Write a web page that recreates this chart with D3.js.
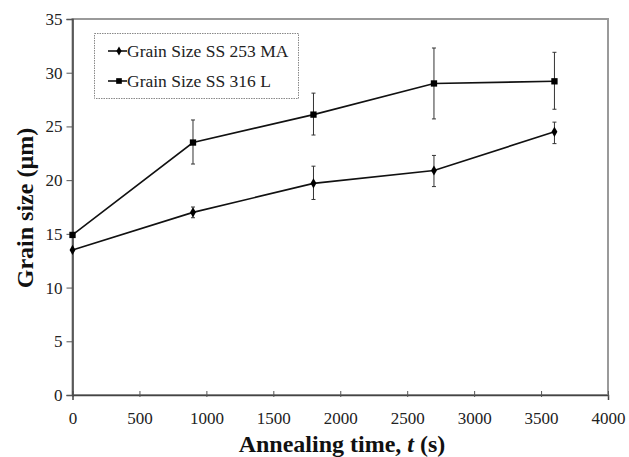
<!DOCTYPE html>
<html>
<head>
<meta charset="utf-8">
<script src="https://cdn.jsdelivr.net/npm/d3@7"></script>
<style>
  html, body { margin: 0; padding: 0; background: #fff; }
  svg { display: block; font-family: "Liberation Serif", "Times New Roman", serif; }
</style>
</head>
<body>
<div id="chart"></div>
<script>
'use strict';

// annealing times (s)
const times = [0, 900, 1800, 2700, 3600];

// SS 253 MA
const ma253 = [13.5, 17.0, 19.7, 20.9, 24.5];
const ma253Lo = [13.5, 16.5, 18.2, 19.4, 23.4];
const ma253Hi = [13.5, 17.5, 21.3, 22.3, 25.4];

// SS 316 L
const l316 = [14.9, 23.5, 26.1, 29.0, 29.2];
const l316Lo = [14.9, 21.5, 24.2, 25.7, 26.6];
const l316Hi = [14.9, 25.6, 28.1, 32.3, 31.9];

const xTicks = [0, 500, 1000, 1500, 2000, 2500, 3000, 3500, 4000];
const yTicks = [0, 5, 10, 15, 20, 25, 30, 35];

const W = 629, H = 457;
const m = { left: 72.5, right: 21, top: 19, bottom: 62 };

const svg = d3.select('#chart').append('svg').attr('width', W).attr('height', H);

const x = d3.scaleLinear().domain([0, 4000]).range([m.left, W - m.right]);
const y = d3.scaleLinear().domain([0, 35]).range([H - m.bottom, m.top]);

/* plot frame (grey top/right) */
svg.append('rect')
    .attr('x', x(0)).attr('y', y(35))
    .attr('width', x(4000) - x(0)).attr('height', y(0) - y(35))
    .attr('fill', 'none').attr('stroke', '#9a9a9a').attr('stroke-width', 2);

/* axes */
const xAxis = svg.append('g').attr('transform', `translate(0,${y(0)})`)
    .call(d3.axisBottom(x).tickValues(xTicks).tickFormat(d3.format('d')).tickSize(5).tickPadding(12));
const yAxis = svg.append('g').attr('transform', `translate(${x(0)},0)`)
    .call(d3.axisLeft(y).tickValues(yTicks).tickSize(6).tickPadding(4));

[xAxis, yAxis].forEach(g => {
    g.select('.domain').attr('stroke', '#444').attr('stroke-width', 1.5);
    g.selectAll('.tick line').attr('stroke', '#555').attr('stroke-width', 1);
    g.selectAll('.tick text')
        .attr('font-family', '"Liberation Serif", serif')
        .attr('font-size', 17).attr('fill', '#222');
});
xAxis.selectAll('.tick line').attr('y1', -4).attr('y2', 2);

/* axis titles */
svg.append('text')
    .attr('x', 342).attr('y', 452)
    .attr('text-anchor', 'middle')
    .attr('font-size', 24).attr('font-weight', 'bold').attr('fill', '#111')
    .html('Annealing time, <tspan font-style="italic">t</tspan> (s)');

svg.append('text')
    .attr('transform', 'translate(33,208) rotate(-90)')
    .attr('text-anchor', 'middle')
    .attr('font-size', 24).attr('font-weight', 'bold').attr('fill', '#111')
    .text('Grain size (\u00b5m)');

/* series */
const series = [
    { name: 'Grain Size SS 253 MA', v: ma253, lo: ma253Lo, hi: ma253Hi, shape: d3.symbolDiamond, size: 30 },
    { name: 'Grain Size SS 316 L', v: l316, lo: l316Lo, hi: l316Hi, shape: d3.symbolSquare, size: 40 }
];

const line = d3.line().x(d => x(d[0])).y(d => y(d[1]));

series.forEach(s => {
    const pts = times.map((t, i) => [t, s.v[i]]);
    const g = svg.append('g');

    // error bars
    times.forEach((t, i) => {
        if (s.hi[i] === s.lo[i]) return;
        const cx = x(t);
        g.append('line').attr('x1', cx).attr('x2', cx)
            .attr('y1', y(s.lo[i])).attr('y2', y(s.hi[i]))
            .attr('stroke', '#333').attr('stroke-width', 1);
        [s.lo[i], s.hi[i]].forEach(v => {
            g.append('line').attr('x1', cx - 2).attr('x2', cx + 2)
                .attr('y1', y(v)).attr('y2', y(v))
                .attr('stroke', '#333').attr('stroke-width', 1);
        });
    });

    g.append('path').datum(pts)
        .attr('d', line).attr('fill', 'none')
        .attr('stroke', '#111').attr('stroke-width', 1.6);

    g.selectAll('.mk').data(pts).join('path')
        .attr('transform', d => `translate(${x(d[0])},${y(d[1])})`)
        .attr('d', d3.symbol().type(s.shape).size(s.size))
        .attr('fill', '#000');
});

/* legend */
const lg = svg.append('g');
lg.append('rect')
    .attr('x', 94.5).attr('y', 33.5).attr('width', 204).attr('height', 65)
    .attr('fill', '#fff').attr('stroke', '#888').attr('stroke-width', 1)
    .attr('stroke-dasharray', '1.5,1');
series.forEach((s, i) => {
    const ly = 51 + i * 30;
    lg.append('line').attr('x1', 108).attr('x2', 127).attr('y1', ly).attr('y2', ly)
        .attr('stroke', '#111').attr('stroke-width', 1.6);
    lg.append('path').attr('transform', `translate(119,${ly})`)
        .attr('d', d3.symbol().type(s.shape).size(s.size * 0.8)).attr('fill', '#000');
    lg.append('text').attr('x', 127).attr('y', ly + 5.5)
        .attr('font-size', 17.5).attr('fill', '#222').text(s.name);
});
</script>
</body>
</html>
